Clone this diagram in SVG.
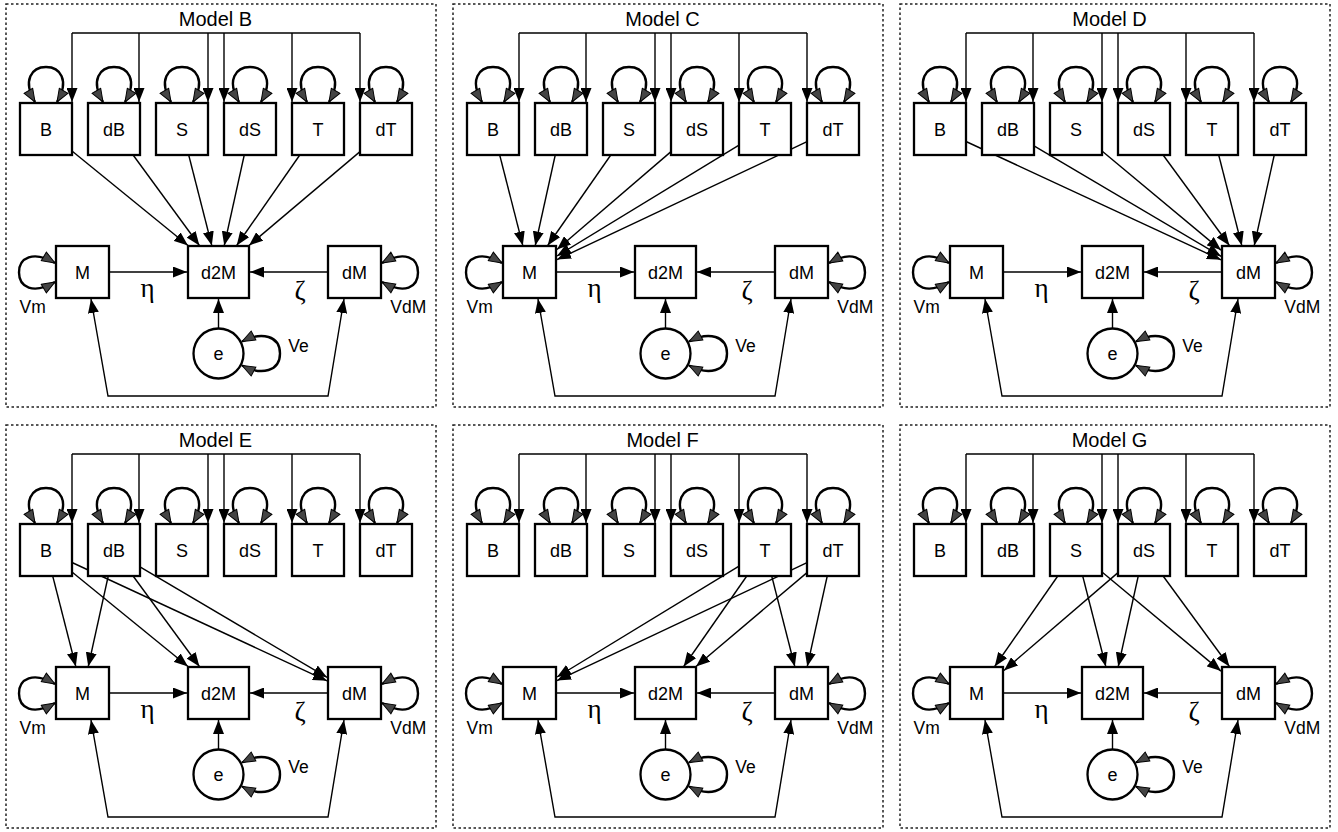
<svg xmlns="http://www.w3.org/2000/svg" width="1338" height="832" viewBox="0 0 1338 832">
<defs>
<style>
.frame{fill:none;stroke:#222;stroke-width:1.5;stroke-dasharray:2.5 2.5}
.title{font-family:"Liberation Sans",Arial,sans-serif;font-size:20px;text-anchor:middle;fill:#000}
.box{fill:#fff;stroke:#000;stroke-width:2.3}
.lbl{font-family:"Liberation Sans",Arial,sans-serif;font-size:18px;text-anchor:middle;fill:#000}
.vl{font-family:"Liberation Sans",Arial,sans-serif;font-size:17.5px;fill:#000}
.gk{font-family:"Liberation Serif","Times New Roman",serif;font-size:27px;text-anchor:middle;fill:#000}
.ln{fill:none;stroke:#000;stroke-width:1.4}
.c{fill:none;stroke:#000;stroke-width:1.4;marker-end:url(#ah)}
.c2{fill:none;stroke:#000;stroke-width:1.4;marker-start:url(#ahs);marker-end:url(#ah)}
.loop{fill:none;stroke:#000;stroke-width:2.4;marker-start:url(#lh);marker-end:url(#lh)}
</style>
<marker id="ah" viewBox="0 0 14 11" refX="14" refY="5.5" markerWidth="14" markerHeight="11" markerUnits="userSpaceOnUse" orient="auto"><path d="M0,0 L14,5.5 L0,11 z" fill="#000"/></marker>
<marker id="ahs" viewBox="0 0 14 11" refX="14" refY="5.5" markerWidth="14" markerHeight="11" markerUnits="userSpaceOnUse" orient="auto-start-reverse"><path d="M0,0 L14,5.5 L0,11 z" fill="#000"/></marker>
<marker id="lh" viewBox="-1 -1 15 12" refX="13" refY="5" markerWidth="15" markerHeight="12" markerUnits="userSpaceOnUse" orient="auto-start-reverse"><path d="M0,0 L13,5 L0,10 z" fill="#444" stroke="#000" stroke-width="1"/></marker>
</defs>

<!-- ================= Model B ================= -->
<g id="panel-B" transform="translate(0,0)">
<rect class="frame" x="6" y="4" width="430" height="403"/>
<text class="title" x="215.5" y="25.5">Model B</text>
<g id="mB-edges">
<path class="ln" d="M72,33 H360"/>
<path class="c" d="M72,33 V102"/><path class="c" d="M139,33 V102"/><path class="c" d="M208,33 V102"/><path class="c" d="M224,33 V102"/><path class="c" d="M292,33 V102"/><path class="c" d="M360,33 V102"/>
<path class="loop" d="M35,102 C22,80 32,67 46,67 C60,67 70,80 57,102"/>
<path class="loop" d="M103,102 C90,80 100,67 114,67 C128,67 138,80 125,102"/>
<path class="loop" d="M171,102 C158,80 168,67 182,67 C196,67 206,80 193,102"/>
<path class="loop" d="M239,102 C226,80 236,67 250,67 C264,67 274,80 261,102"/>
<path class="loop" d="M307,102 C294,80 304,67 318,67 C332,67 342,80 329,102"/>
<path class="loop" d="M375,102 C362,80 372,67 386,67 C400,67 410,80 397,102"/>
<path class="loop" d="M55,263 C33,250 19,258 19,272.5 C19,287 33,295 55,282"/>
<path class="loop" d="M382,263 C405,250 418,258 418,272.5 C418,287 405,295 382,282"/>
<path class="loop" d="M242,341.5 C262,331 280,336 280,353.5 C280,371 262,376 242,365.5"/>
<path class="c" d="M109,272 H187"/>
<path class="c" d="M328,272 H250"/>
<path class="c" d="M218.5,328 V299"/>
<path class="c2" d="M91,299 L108,396 L328,396 L344,299"/>
<path class="c" d="M72,151 L188,245.5"/>
<path class="c" d="M133.1,155 L199.4,245.5"/>
<path class="c" d="M188.7,155 L211.8,245.5"/>
<path class="c" d="M244.25,155 L224.25,245.5"/>
<path class="c" d="M299.8,155 L236.7,245.5"/>
<path class="c" d="M360,151.6 L249,245.5"/>
</g>
<g id="mB-B"><rect class="box" x="20" y="103" width="52" height="52"/><text class="lbl" x="46" y="135.5">B</text></g>
<g id="mB-dB"><rect class="box" x="88" y="103" width="52" height="52"/><text class="lbl" x="114" y="135.5">dB</text></g>
<g id="mB-S"><rect class="box" x="156" y="103" width="52" height="52"/><text class="lbl" x="182" y="135.5">S</text></g>
<g id="mB-dS"><rect class="box" x="224" y="103" width="52" height="52"/><text class="lbl" x="250" y="135.5">dS</text></g>
<g id="mB-T"><rect class="box" x="292" y="103" width="52" height="52"/><text class="lbl" x="318" y="135.5">T</text></g>
<g id="mB-dT"><rect class="box" x="360" y="103" width="52" height="52"/><text class="lbl" x="386" y="135.5">dT</text></g>
<g id="mB-M"><rect class="box" x="56" y="246" width="53" height="52"/><text class="lbl" x="82.5" y="278.5">M</text></g>
<g id="mB-d2M"><rect class="box" x="188" y="246" width="61" height="52"/><text class="lbl" x="218.5" y="278.5">d2M</text></g>
<g id="mB-dM"><rect class="box" x="328" y="246" width="53" height="52"/><text class="lbl" x="354.5" y="278.5">dM</text></g>
<g id="mB-e"><circle class="box" cx="218.5" cy="353.5" r="25"/><text class="lbl" x="218.5" y="359.5">e</text></g>
<text class="vl" x="32.7" y="313.3" text-anchor="middle">Vm</text>
<text class="vl" x="408.3" y="313.3" text-anchor="middle">VdM</text>
<text class="vl" x="288.3" y="351.7">Ve</text>
<text class="gk" x="147.5" y="297">η</text>
<text class="gk" x="300" y="299.5">ζ</text>
</g>

<!-- ================= Model C ================= -->
<g id="panel-C" transform="translate(447,0)">
<rect class="frame" x="6" y="4" width="430" height="403"/>
<text class="title" x="215.5" y="25.5">Model C</text>
<g id="mC-edges">
<path class="ln" d="M72,33 H360"/>
<path class="c" d="M72,33 V102"/><path class="c" d="M139,33 V102"/><path class="c" d="M208,33 V102"/><path class="c" d="M224,33 V102"/><path class="c" d="M292,33 V102"/><path class="c" d="M360,33 V102"/>
<path class="loop" d="M35,102 C22,80 32,67 46,67 C60,67 70,80 57,102"/>
<path class="loop" d="M103,102 C90,80 100,67 114,67 C128,67 138,80 125,102"/>
<path class="loop" d="M171,102 C158,80 168,67 182,67 C196,67 206,80 193,102"/>
<path class="loop" d="M239,102 C226,80 236,67 250,67 C264,67 274,80 261,102"/>
<path class="loop" d="M307,102 C294,80 304,67 318,67 C332,67 342,80 329,102"/>
<path class="loop" d="M375,102 C362,80 372,67 386,67 C400,67 410,80 397,102"/>
<path class="loop" d="M55,263 C33,250 19,258 19,272.5 C19,287 33,295 55,282"/>
<path class="loop" d="M382,263 C405,250 418,258 418,272.5 C418,287 405,295 382,282"/>
<path class="loop" d="M242,341.5 C262,331 280,336 280,353.5 C280,371 262,376 242,365.5"/>
<path class="c" d="M109,272 H187"/>
<path class="c" d="M328,272 H250"/>
<path class="c" d="M218.5,328 V299"/>
<path class="c2" d="M91,299 L108,396 L328,396 L344,299"/>
<path class="c" d="M52.7,155 L75.8,245.5"/>
<path class="c" d="M108.25,155 L88.25,245.5"/>
<path class="c" d="M163.8,155 L100.7,245.5"/>
<path class="c" d="M224,151.6 L110,249.5"/>
<path class="c" d="M292,145.2 L110,256"/>
<path class="c" d="M360,141.7 L110,259.6"/>
</g>
<g id="mC-B"><rect class="box" x="20" y="103" width="52" height="52"/><text class="lbl" x="46" y="135.5">B</text></g>
<g id="mC-dB"><rect class="box" x="88" y="103" width="52" height="52"/><text class="lbl" x="114" y="135.5">dB</text></g>
<g id="mC-S"><rect class="box" x="156" y="103" width="52" height="52"/><text class="lbl" x="182" y="135.5">S</text></g>
<g id="mC-dS"><rect class="box" x="224" y="103" width="52" height="52"/><text class="lbl" x="250" y="135.5">dS</text></g>
<g id="mC-T"><rect class="box" x="292" y="103" width="52" height="52"/><text class="lbl" x="318" y="135.5">T</text></g>
<g id="mC-dT"><rect class="box" x="360" y="103" width="52" height="52"/><text class="lbl" x="386" y="135.5">dT</text></g>
<g id="mC-M"><rect class="box" x="56" y="246" width="53" height="52"/><text class="lbl" x="82.5" y="278.5">M</text></g>
<g id="mC-d2M"><rect class="box" x="188" y="246" width="61" height="52"/><text class="lbl" x="218.5" y="278.5">d2M</text></g>
<g id="mC-dM"><rect class="box" x="328" y="246" width="53" height="52"/><text class="lbl" x="354.5" y="278.5">dM</text></g>
<g id="mC-e"><circle class="box" cx="218.5" cy="353.5" r="25"/><text class="lbl" x="218.5" y="359.5">e</text></g>
<text class="vl" x="32.7" y="313.3" text-anchor="middle">Vm</text>
<text class="vl" x="408.3" y="313.3" text-anchor="middle">VdM</text>
<text class="vl" x="288.3" y="351.7">Ve</text>
<text class="gk" x="147.5" y="297">η</text>
<text class="gk" x="300" y="299.5">ζ</text>
</g>

<!-- ================= Model D ================= -->
<g id="panel-D" transform="translate(894,0)">
<rect class="frame" x="6" y="4" width="430" height="403"/>
<text class="title" x="215.5" y="25.5">Model D</text>
<g id="mD-edges">
<path class="ln" d="M72,33 H360"/>
<path class="c" d="M72,33 V102"/><path class="c" d="M139,33 V102"/><path class="c" d="M208,33 V102"/><path class="c" d="M224,33 V102"/><path class="c" d="M292,33 V102"/><path class="c" d="M360,33 V102"/>
<path class="loop" d="M35,102 C22,80 32,67 46,67 C60,67 70,80 57,102"/>
<path class="loop" d="M103,102 C90,80 100,67 114,67 C128,67 138,80 125,102"/>
<path class="loop" d="M171,102 C158,80 168,67 182,67 C196,67 206,80 193,102"/>
<path class="loop" d="M239,102 C226,80 236,67 250,67 C264,67 274,80 261,102"/>
<path class="loop" d="M307,102 C294,80 304,67 318,67 C332,67 342,80 329,102"/>
<path class="loop" d="M375,102 C362,80 372,67 386,67 C400,67 410,80 397,102"/>
<path class="loop" d="M55,263 C33,250 19,258 19,272.5 C19,287 33,295 55,282"/>
<path class="loop" d="M382,263 C405,250 418,258 418,272.5 C418,287 405,295 382,282"/>
<path class="loop" d="M242,341.5 C262,331 280,336 280,353.5 C280,371 262,376 242,365.5"/>
<path class="c" d="M109,272 H187"/>
<path class="c" d="M328,272 H250"/>
<path class="c" d="M218.5,328 V299"/>
<path class="c2" d="M91,299 L108,396 L328,396 L344,299"/>
<path class="c" d="M72,141.5 L327,259.8"/>
<path class="c" d="M140,145.9 L327,256.3"/>
<path class="c" d="M208,151 L327,250.1"/>
<path class="c" d="M269.1,155 L335.4,245.5"/>
<path class="c" d="M324.7,155 L347.8,245.5"/>
<path class="c" d="M380.25,155 L360.25,245.5"/>
</g>
<g id="mD-B"><rect class="box" x="20" y="103" width="52" height="52"/><text class="lbl" x="46" y="135.5">B</text></g>
<g id="mD-dB"><rect class="box" x="88" y="103" width="52" height="52"/><text class="lbl" x="114" y="135.5">dB</text></g>
<g id="mD-S"><rect class="box" x="156" y="103" width="52" height="52"/><text class="lbl" x="182" y="135.5">S</text></g>
<g id="mD-dS"><rect class="box" x="224" y="103" width="52" height="52"/><text class="lbl" x="250" y="135.5">dS</text></g>
<g id="mD-T"><rect class="box" x="292" y="103" width="52" height="52"/><text class="lbl" x="318" y="135.5">T</text></g>
<g id="mD-dT"><rect class="box" x="360" y="103" width="52" height="52"/><text class="lbl" x="386" y="135.5">dT</text></g>
<g id="mD-M"><rect class="box" x="56" y="246" width="53" height="52"/><text class="lbl" x="82.5" y="278.5">M</text></g>
<g id="mD-d2M"><rect class="box" x="188" y="246" width="61" height="52"/><text class="lbl" x="218.5" y="278.5">d2M</text></g>
<g id="mD-dM"><rect class="box" x="328" y="246" width="53" height="52"/><text class="lbl" x="354.5" y="278.5">dM</text></g>
<g id="mD-e"><circle class="box" cx="218.5" cy="353.5" r="25"/><text class="lbl" x="218.5" y="359.5">e</text></g>
<text class="vl" x="32.7" y="313.3" text-anchor="middle">Vm</text>
<text class="vl" x="408.3" y="313.3" text-anchor="middle">VdM</text>
<text class="vl" x="288.3" y="351.7">Ve</text>
<text class="gk" x="147.5" y="297">η</text>
<text class="gk" x="300" y="299.5">ζ</text>
</g>

<!-- ================= Model E ================= -->
<g id="panel-E" transform="translate(0,421)">
<rect class="frame" x="6" y="4" width="430" height="403"/>
<text class="title" x="215.5" y="25.5">Model E</text>
<g id="mE-edges">
<path class="ln" d="M72,33 H360"/>
<path class="c" d="M72,33 V102"/><path class="c" d="M139,33 V102"/><path class="c" d="M208,33 V102"/><path class="c" d="M224,33 V102"/><path class="c" d="M292,33 V102"/><path class="c" d="M360,33 V102"/>
<path class="loop" d="M35,102 C22,80 32,67 46,67 C60,67 70,80 57,102"/>
<path class="loop" d="M103,102 C90,80 100,67 114,67 C128,67 138,80 125,102"/>
<path class="loop" d="M171,102 C158,80 168,67 182,67 C196,67 206,80 193,102"/>
<path class="loop" d="M239,102 C226,80 236,67 250,67 C264,67 274,80 261,102"/>
<path class="loop" d="M307,102 C294,80 304,67 318,67 C332,67 342,80 329,102"/>
<path class="loop" d="M375,102 C362,80 372,67 386,67 C400,67 410,80 397,102"/>
<path class="loop" d="M55,263 C33,250 19,258 19,272.5 C19,287 33,295 55,282"/>
<path class="loop" d="M382,263 C405,250 418,258 418,272.5 C418,287 405,295 382,282"/>
<path class="loop" d="M242,341.5 C262,331 280,336 280,353.5 C280,371 262,376 242,365.5"/>
<path class="c" d="M109,272 H187"/>
<path class="c" d="M328,272 H250"/>
<path class="c" d="M218.5,328 V299"/>
<path class="c2" d="M91,299 L108,396 L328,396 L344,299"/>
<path class="c" d="M52.7,155 L75.8,245.5"/>
<path class="c" d="M108.25,155 L88.25,245.5"/>
<path class="c" d="M72,151 L188,245.5"/>
<path class="c" d="M133.1,155 L199.4,245.5"/>
<path class="c" d="M72,141.5 L327,259.8"/>
<path class="c" d="M140,145.9 L327,256.3"/>
</g>
<g id="mE-B"><rect class="box" x="20" y="103" width="52" height="52"/><text class="lbl" x="46" y="135.5">B</text></g>
<g id="mE-dB"><rect class="box" x="88" y="103" width="52" height="52"/><text class="lbl" x="114" y="135.5">dB</text></g>
<g id="mE-S"><rect class="box" x="156" y="103" width="52" height="52"/><text class="lbl" x="182" y="135.5">S</text></g>
<g id="mE-dS"><rect class="box" x="224" y="103" width="52" height="52"/><text class="lbl" x="250" y="135.5">dS</text></g>
<g id="mE-T"><rect class="box" x="292" y="103" width="52" height="52"/><text class="lbl" x="318" y="135.5">T</text></g>
<g id="mE-dT"><rect class="box" x="360" y="103" width="52" height="52"/><text class="lbl" x="386" y="135.5">dT</text></g>
<g id="mE-M"><rect class="box" x="56" y="246" width="53" height="52"/><text class="lbl" x="82.5" y="278.5">M</text></g>
<g id="mE-d2M"><rect class="box" x="188" y="246" width="61" height="52"/><text class="lbl" x="218.5" y="278.5">d2M</text></g>
<g id="mE-dM"><rect class="box" x="328" y="246" width="53" height="52"/><text class="lbl" x="354.5" y="278.5">dM</text></g>
<g id="mE-e"><circle class="box" cx="218.5" cy="353.5" r="25"/><text class="lbl" x="218.5" y="359.5">e</text></g>
<text class="vl" x="32.7" y="313.3" text-anchor="middle">Vm</text>
<text class="vl" x="408.3" y="313.3" text-anchor="middle">VdM</text>
<text class="vl" x="288.3" y="351.7">Ve</text>
<text class="gk" x="147.5" y="297">η</text>
<text class="gk" x="300" y="299.5">ζ</text>
</g>

<!-- ================= Model F ================= -->
<g id="panel-F" transform="translate(447,421)">
<rect class="frame" x="6" y="4" width="430" height="403"/>
<text class="title" x="215.5" y="25.5">Model F</text>
<g id="mF-edges">
<path class="ln" d="M72,33 H360"/>
<path class="c" d="M72,33 V102"/><path class="c" d="M139,33 V102"/><path class="c" d="M208,33 V102"/><path class="c" d="M224,33 V102"/><path class="c" d="M292,33 V102"/><path class="c" d="M360,33 V102"/>
<path class="loop" d="M35,102 C22,80 32,67 46,67 C60,67 70,80 57,102"/>
<path class="loop" d="M103,102 C90,80 100,67 114,67 C128,67 138,80 125,102"/>
<path class="loop" d="M171,102 C158,80 168,67 182,67 C196,67 206,80 193,102"/>
<path class="loop" d="M239,102 C226,80 236,67 250,67 C264,67 274,80 261,102"/>
<path class="loop" d="M307,102 C294,80 304,67 318,67 C332,67 342,80 329,102"/>
<path class="loop" d="M375,102 C362,80 372,67 386,67 C400,67 410,80 397,102"/>
<path class="loop" d="M55,263 C33,250 19,258 19,272.5 C19,287 33,295 55,282"/>
<path class="loop" d="M382,263 C405,250 418,258 418,272.5 C418,287 405,295 382,282"/>
<path class="loop" d="M242,341.5 C262,331 280,336 280,353.5 C280,371 262,376 242,365.5"/>
<path class="c" d="M109,272 H187"/>
<path class="c" d="M328,272 H250"/>
<path class="c" d="M218.5,328 V299"/>
<path class="c2" d="M91,299 L108,396 L328,396 L344,299"/>
<path class="c" d="M292,145.2 L110,256"/>
<path class="c" d="M360,141.7 L110,259.6"/>
<path class="c" d="M299.8,155 L236.7,245.5"/>
<path class="c" d="M360,151.6 L249,245.5"/>
<path class="c" d="M324.7,155 L347.8,245.5"/>
<path class="c" d="M380.25,155 L360.25,245.5"/>
</g>
<g id="mF-B"><rect class="box" x="20" y="103" width="52" height="52"/><text class="lbl" x="46" y="135.5">B</text></g>
<g id="mF-dB"><rect class="box" x="88" y="103" width="52" height="52"/><text class="lbl" x="114" y="135.5">dB</text></g>
<g id="mF-S"><rect class="box" x="156" y="103" width="52" height="52"/><text class="lbl" x="182" y="135.5">S</text></g>
<g id="mF-dS"><rect class="box" x="224" y="103" width="52" height="52"/><text class="lbl" x="250" y="135.5">dS</text></g>
<g id="mF-T"><rect class="box" x="292" y="103" width="52" height="52"/><text class="lbl" x="318" y="135.5">T</text></g>
<g id="mF-dT"><rect class="box" x="360" y="103" width="52" height="52"/><text class="lbl" x="386" y="135.5">dT</text></g>
<g id="mF-M"><rect class="box" x="56" y="246" width="53" height="52"/><text class="lbl" x="82.5" y="278.5">M</text></g>
<g id="mF-d2M"><rect class="box" x="188" y="246" width="61" height="52"/><text class="lbl" x="218.5" y="278.5">d2M</text></g>
<g id="mF-dM"><rect class="box" x="328" y="246" width="53" height="52"/><text class="lbl" x="354.5" y="278.5">dM</text></g>
<g id="mF-e"><circle class="box" cx="218.5" cy="353.5" r="25"/><text class="lbl" x="218.5" y="359.5">e</text></g>
<text class="vl" x="32.7" y="313.3" text-anchor="middle">Vm</text>
<text class="vl" x="408.3" y="313.3" text-anchor="middle">VdM</text>
<text class="vl" x="288.3" y="351.7">Ve</text>
<text class="gk" x="147.5" y="297">η</text>
<text class="gk" x="300" y="299.5">ζ</text>
</g>

<!-- ================= Model G ================= -->
<g id="panel-G" transform="translate(894,421)">
<rect class="frame" x="6" y="4" width="430" height="403"/>
<text class="title" x="215.5" y="25.5">Model G</text>
<g id="mG-edges">
<path class="ln" d="M72,33 H360"/>
<path class="c" d="M72,33 V102"/><path class="c" d="M139,33 V102"/><path class="c" d="M208,33 V102"/><path class="c" d="M224,33 V102"/><path class="c" d="M292,33 V102"/><path class="c" d="M360,33 V102"/>
<path class="loop" d="M35,102 C22,80 32,67 46,67 C60,67 70,80 57,102"/>
<path class="loop" d="M103,102 C90,80 100,67 114,67 C128,67 138,80 125,102"/>
<path class="loop" d="M171,102 C158,80 168,67 182,67 C196,67 206,80 193,102"/>
<path class="loop" d="M239,102 C226,80 236,67 250,67 C264,67 274,80 261,102"/>
<path class="loop" d="M307,102 C294,80 304,67 318,67 C332,67 342,80 329,102"/>
<path class="loop" d="M375,102 C362,80 372,67 386,67 C400,67 410,80 397,102"/>
<path class="loop" d="M55,263 C33,250 19,258 19,272.5 C19,287 33,295 55,282"/>
<path class="loop" d="M382,263 C405,250 418,258 418,272.5 C418,287 405,295 382,282"/>
<path class="loop" d="M242,341.5 C262,331 280,336 280,353.5 C280,371 262,376 242,365.5"/>
<path class="c" d="M109,272 H187"/>
<path class="c" d="M328,272 H250"/>
<path class="c" d="M218.5,328 V299"/>
<path class="c2" d="M91,299 L108,396 L328,396 L344,299"/>
<path class="c" d="M163.8,155 L100.7,245.5"/>
<path class="c" d="M224,151.6 L110,249.5"/>
<path class="c" d="M188.7,155 L211.8,245.5"/>
<path class="c" d="M244.25,155 L224.25,245.5"/>
<path class="c" d="M208,151 L327,250.1"/>
<path class="c" d="M269.1,155 L335.4,245.5"/>
</g>
<g id="mG-B"><rect class="box" x="20" y="103" width="52" height="52"/><text class="lbl" x="46" y="135.5">B</text></g>
<g id="mG-dB"><rect class="box" x="88" y="103" width="52" height="52"/><text class="lbl" x="114" y="135.5">dB</text></g>
<g id="mG-S"><rect class="box" x="156" y="103" width="52" height="52"/><text class="lbl" x="182" y="135.5">S</text></g>
<g id="mG-dS"><rect class="box" x="224" y="103" width="52" height="52"/><text class="lbl" x="250" y="135.5">dS</text></g>
<g id="mG-T"><rect class="box" x="292" y="103" width="52" height="52"/><text class="lbl" x="318" y="135.5">T</text></g>
<g id="mG-dT"><rect class="box" x="360" y="103" width="52" height="52"/><text class="lbl" x="386" y="135.5">dT</text></g>
<g id="mG-M"><rect class="box" x="56" y="246" width="53" height="52"/><text class="lbl" x="82.5" y="278.5">M</text></g>
<g id="mG-d2M"><rect class="box" x="188" y="246" width="61" height="52"/><text class="lbl" x="218.5" y="278.5">d2M</text></g>
<g id="mG-dM"><rect class="box" x="328" y="246" width="53" height="52"/><text class="lbl" x="354.5" y="278.5">dM</text></g>
<g id="mG-e"><circle class="box" cx="218.5" cy="353.5" r="25"/><text class="lbl" x="218.5" y="359.5">e</text></g>
<text class="vl" x="32.7" y="313.3" text-anchor="middle">Vm</text>
<text class="vl" x="408.3" y="313.3" text-anchor="middle">VdM</text>
<text class="vl" x="288.3" y="351.7">Ve</text>
<text class="gk" x="147.5" y="297">η</text>
<text class="gk" x="300" y="299.5">ζ</text>
</g>
</svg>
